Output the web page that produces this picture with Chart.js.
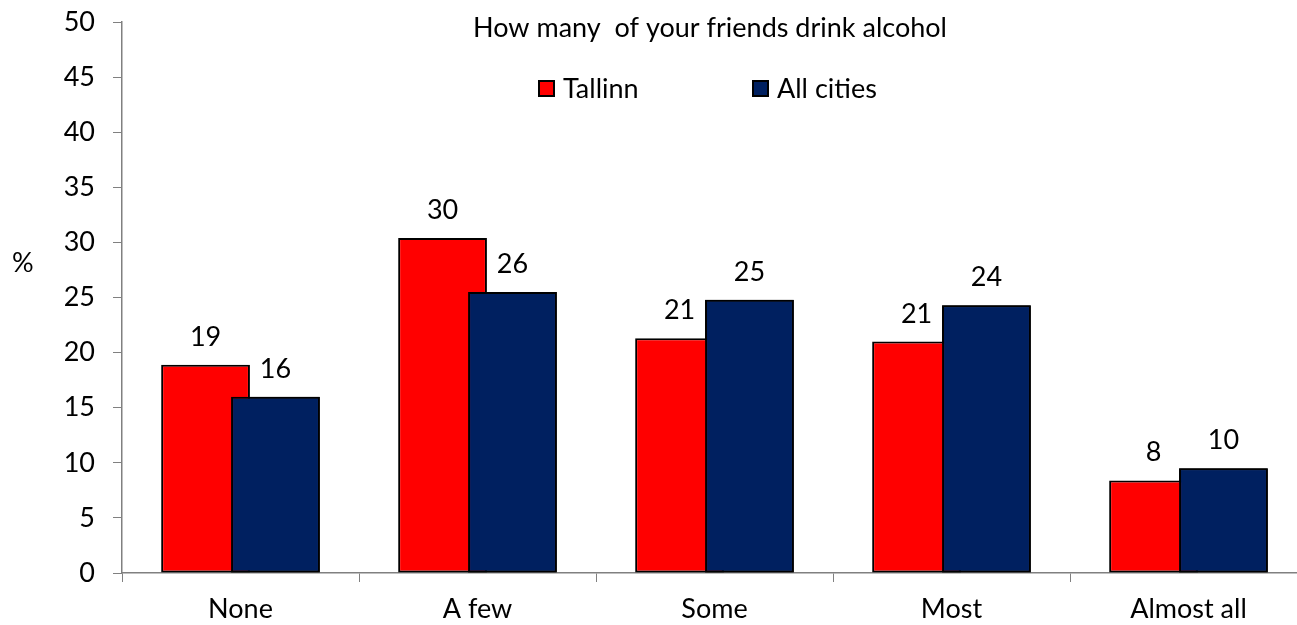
<!DOCTYPE html>
<html>
<head>
<meta charset="utf-8">
<script src="https://cdn.jsdelivr.net/npm/chart.js@4/dist/chart.umd.min.js"></script>
<style>
  html, body { margin: 0; padding: 0; background: #fff; overflow: hidden; }
  canvas { display: block; }
</style>
</head>
<body>
<!-- the category axis runs a few pixels past the right edge of the window, so the canvas is a bit wider -->
<canvas id="friendsChart" width="1307" height="625"></canvas>
<script>
const categories = ['None', 'A few', 'Some', 'Most', 'Almost all'];
const tallinn = [18.9, 30.4, 21.3, 21.0, 8.4];
const allCities = [16.0, 25.5, 24.8, 24.3, 9.5];
const tallinnLabels = [19, 30, 21, 21, 8];
const allCitiesLabels = [16, 26, 25, 24, 10];
const yTicks = [0, 5, 10, 15, 20, 25, 30, 35, 40, 45, 50];

const FONT = 'Lato, "Open Sans", sans-serif';
const FONT_SIZE = 27;

// Chart.js paints the first dataset on top; the original has the blue bars over the red ones
const blueOnTop = {
    id: 'blueOnTop',
    afterDatasetsDraw(chart) {
        const meta = chart.getDatasetMeta(1);
        chart.ctx.save();
        meta.controller.draw();
        chart.ctx.restore();
    }
};

// value labels above each bar
const valueLabels = {
    id: 'valueLabels',
    afterDatasetsDraw(chart) {
        const ctx = chart.ctx;
        ctx.save();
        ctx.font = FONT_SIZE + 'px ' + FONT;
        ctx.fillStyle = '#000';
        ctx.textAlign = 'center';
        ctx.textBaseline = 'alphabetic';
        chart.data.datasets.forEach((ds, i) => {
            const meta = chart.getDatasetMeta(i);
            meta.data.forEach((bar, j) => {
                ctx.fillText(String(ds.valueLabels[j]), bar.x, bar.y - 19);
            });
        });
        ctx.restore();
    }
};

// title, legend and "%" drawn inside the plot like the original
const overlay = {
    id: 'overlay',
    afterDraw(chart) {
        const ctx = chart.ctx;
        ctx.save();
        ctx.font = FONT_SIZE + 'px ' + FONT;
        ctx.fillStyle = '#000';
        ctx.textBaseline = 'middle';

        ctx.textAlign = 'center';
        ctx.fillText('How many  of your friends drink alcohol', 710, 28);

        ctx.textAlign = 'left';
        ctx.fillText('%', 12, 263);

        const legendX = [538, 752];
        chart.data.datasets.forEach((ds, i) => {
            const x = legendX[i];
            ctx.fillStyle = ds.backgroundColor;
            ctx.fillRect(x, 80, 17, 17);
            ctx.strokeStyle = '#000';
            ctx.lineWidth = 2;
            ctx.strokeRect(x + 1, 81, 15, 15);
            ctx.fillStyle = '#000';
            ctx.fillText(ds.label, x + 25, 89);
        });
        ctx.restore();
    }
};

new Chart(document.getElementById('friendsChart'), {
    type: 'bar',
    data: {
        labels: categories,
        datasets: [
            {
                label: 'Tallinn',
                data: tallinn,
                valueLabels: tallinnLabels,
                backgroundColor: '#FF0000',
                borderColor: '#000',
                borderWidth: 2,
                borderSkipped: false,
                categoryPercentage: 0.59,
                barPercentage: 1.27
            },
            {
                label: 'All cities',
                data: allCities,
                valueLabels: allCitiesLabels,
                backgroundColor: '#002060',
                borderColor: '#000',
                borderWidth: 2,
                borderSkipped: false,
                categoryPercentage: 0.59,
                barPercentage: 1.27
            }
        ]
    },
    options: {
        responsive: false,
        animation: false,
        layout: { padding: { top: 22, right: 0, bottom: 0, left: 0 } },
        plugins: {
            legend: { display: false },
            title: { display: false },
            tooltip: { enabled: false }
        },
        scales: {
            x: {
                offset: true,
                grid: {
                    offset: true,
                    drawOnChartArea: false,
                    drawTicks: true,
                    tickLength: 9,
                    color: '#808080'
                },
                border: { color: '#808080', width: 1.5 },
                ticks: {
                    color: '#000',
                    padding: 11,
                    font: { family: FONT, size: FONT_SIZE }
                },
                afterFit(scale) {
                    scale.height = 52;
                    scale.paddingLeft = 0;
                    scale.paddingRight = 0;
                }
            },
            y: {
                min: 0,
                max: 50,
                afterBuildTicks(scale) { scale.ticks = yTicks.map(v => ({ value: v })); },
                grid: {
                    drawOnChartArea: false,
                    drawTicks: true,
                    tickLength: 9,
                    color: '#808080'
                },
                border: { color: '#808080', width: 1.5 },
                ticks: {
                    color: '#000',
                    padding: 18,
                    font: { family: FONT, size: FONT_SIZE }
                },
                afterFit(scale) {
                    scale.width = 122;
                    scale.paddingTop = 0;
                    scale.paddingBottom = 0;
                }
            }
        }
    },
    plugins: [blueOnTop, valueLabels, overlay]
});
</script>
</body>
</html>
